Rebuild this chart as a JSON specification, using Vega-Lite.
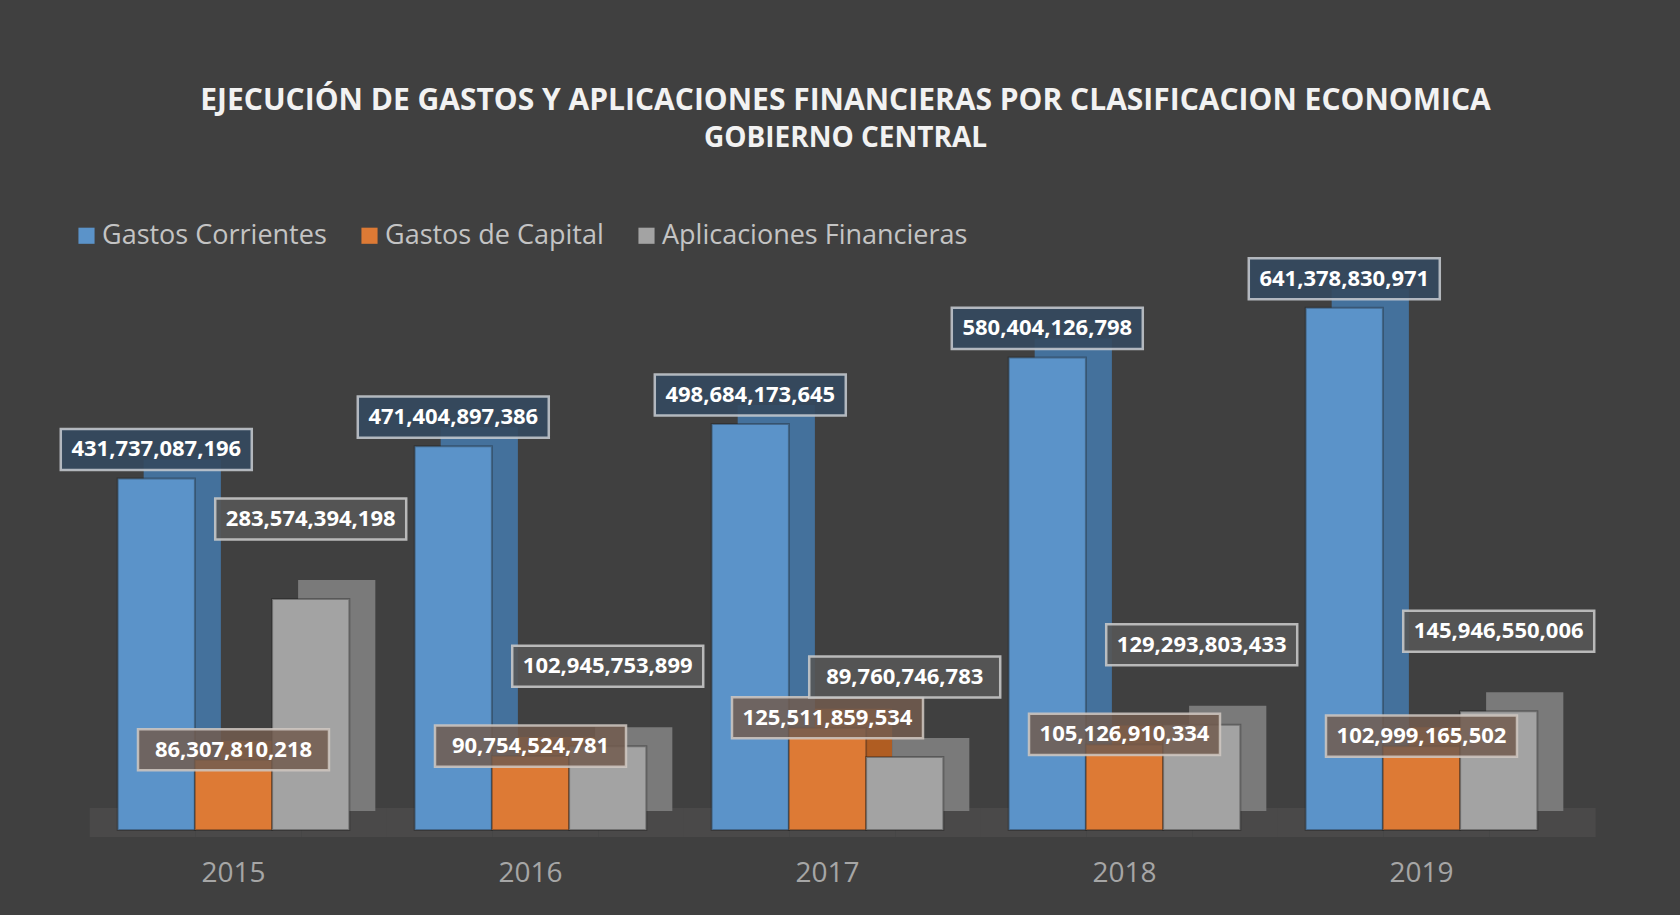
{
  "$schema": "https://vega.github.io/schema/vega-lite/v6.json",
  "autosize": {"type": "none"},
  "width": 1485,
  "height": 570,
  "padding": {"left": 85, "top": 260, "right": 110, "bottom": 85},
  "background": "#404040",
  "config": {
    "view": {"stroke": null},
    "font": "Open Sans"
  },
  "title": {
    "text": "EJECUCIÓN DE GASTOS Y APLICACIONES FINANCIERAS POR CLASIFICACION ECONOMICA",
    "subtitle": "GOBIERNO CENTRAL",
    "font": "Open Sans",
    "fontSize": 30,
    "fontWeight": "bold",
    "color": "#f2f2f2",
    "subtitleFont": "Open Sans",
    "subtitleFontSize": 28,
    "subtitleFontWeight": "bold",
    "subtitleColor": "#f2f2f2",
    "subtitlePadding": 9,
    "anchor": "middle",
    "dx": 18,
    "offset": 69
  },
  "resolve": {"scale": {"color": "independent", "xOffset": "independent"}},
  "data": {
    "values": [
      {"year": "2015", "serie": "Gastos Corrientes", "value": 431737087196},
      {"year": "2015", "serie": "Gastos de Capital", "value": 86307810218},
      {"year": "2015", "serie": "Aplicaciones Financieras", "value": 283574394198},
      {"year": "2016", "serie": "Gastos Corrientes", "value": 471404897386},
      {"year": "2016", "serie": "Gastos de Capital", "value": 90754524781},
      {"year": "2016", "serie": "Aplicaciones Financieras", "value": 102945753899},
      {"year": "2017", "serie": "Gastos Corrientes", "value": 498684173645},
      {"year": "2017", "serie": "Gastos de Capital", "value": 125511859534},
      {"year": "2017", "serie": "Aplicaciones Financieras", "value": 89760746783},
      {"year": "2018", "serie": "Gastos Corrientes", "value": 580404126798},
      {"year": "2018", "serie": "Gastos de Capital", "value": 105126910334},
      {"year": "2018", "serie": "Aplicaciones Financieras", "value": 129293803433},
      {"year": "2019", "serie": "Gastos Corrientes", "value": 641378830971},
      {"year": "2019", "serie": "Gastos de Capital", "value": 102999165502},
      {"year": "2019", "serie": "Aplicaciones Financieras", "value": 145946550006}
    ]
  },
  "encoding": {
    "x": {
      "field": "year",
      "type": "nominal",
      "title": null,
      "scale": {"paddingInner": 0.22, "paddingOuter": 0.11},
      "axis": {
        "labelAngle": 0,
        "labelFont": "Open Sans",
        "labelFontSize": 28,
        "labelColor": "#a6a6a6",
        "labelBaseline": "middle",
        "labelPadding": 43,
        "domain": false,
        "ticks": false,
        "grid": false
      }
    },
    "xOffset": {
      "field": "serie",
      "type": "nominal",
      "scale": {"domain": ["Gastos Corrientes", "Gastos de Capital", "Aplicaciones Financieras"], "paddingInner": 0}
    },
    "y": {
      "field": "value",
      "type": "quantitative",
      "scale": {"domain": [0, 700000000000]},
      "axis": null
    }
  },
  "layer": [
    {
      "mark": {"type": "bar", "color": "#4a4949"},
      "encoding": {
        "xOffset": {
          "field": "serie",
          "type": "nominal",
          "scale": {"domain": ["Gastos Corrientes", "Gastos de Capital", "Aplicaciones Financieras"], "range": [-28, 290], "paddingInner": 0}
        },
        "y": {"datum": 27000000000, "type": "quantitative"},
        "y2": {"datum": -8500000000}
      }
    },
    {
      "mark": {"type": "bar", "yOffset": -19, "y2Offset": -4},
      "encoding": {
        "xOffset": {
          "field": "serie",
          "type": "nominal",
          "scale": {"domain": ["Gastos Corrientes", "Gastos de Capital", "Aplicaciones Financieras"], "range": [26, 257.66], "paddingInner": 0}
        },
        "color": {
          "field": "serie",
          "type": "nominal",
          "scale": {"domain": ["Gastos Corrientes", "Gastos de Capital", "Aplicaciones Financieras"], "range": ["#44719c", "#b05d22", "#7a7a7a"]},
          "legend": null
        }
      }
    },
    {
      "mark": {"type": "bar", "strokeWidth": 2, "stroke": "#1a1a1a", "strokeOpacity": 0.35},
      "encoding": {
        "color": {
          "field": "serie",
          "type": "nominal",
          "scale": {"domain": ["Gastos Corrientes", "Gastos de Capital", "Aplicaciones Financieras"], "range": ["#5b93c9", "#dd7a35", "#a3a3a3"]},
          "legend": {
            "title": null,
            "orient": "none",
            "legendX": -12,
            "legendY": -38,
            "direction": "horizontal",
            "symbolType": "square",
            "symbolSize": 260,
            "symbolStrokeWidth": 0,
            "labelFont": "Open Sans",
            "labelFontSize": 27,
            "labelColor": "#c4c4c4",
            "labelLimit": 0,
            "labelOffset": 2,
            "columnPadding": 29
          }
        }
      }
    },
    {
      "transform": [{"filter": "datum.serie === 'Gastos Corrientes'"}],
      "layer": [
        {
          "mark": {"type": "point", "shape": "M-1,-0.215H1V0.215H-1Z", "size": 36481, "filled": true, "fill": "#34495f", "fillOpacity": 0.9, "stroke": "#c8cdd2", "strokeWidth": 2.5, "strokeOpacity": 0.85, "opacity": 1, "yOffset": -29}
        },
        {
          "mark": {"type": "text", "font": "Open Sans", "fontSize": 22, "fontWeight": "bold", "color": "#ffffff", "align": "center", "baseline": "middle", "yOffset": -29},
          "encoding": {"text": {"field": "value", "type": "quantitative", "format": ",.0f"}}
        }
      ]
    },
    {
      "transform": [{"filter": "datum.serie === 'Gastos de Capital'"}],
      "layer": [
        {
          "mark": {"type": "point", "shape": "M-1,-0.215H1V0.215H-1Z", "size": 36481, "filled": true, "fill": "#725c4f", "fillOpacity": 0.85, "stroke": "#d0c8c2", "strokeWidth": 2.5, "strokeOpacity": 0.85, "opacity": 1, "yOffset": -10}
        },
        {
          "mark": {"type": "text", "font": "Open Sans", "fontSize": 22, "fontWeight": "bold", "color": "#ffffff", "align": "center", "baseline": "middle", "yOffset": -10},
          "encoding": {"text": {"field": "value", "type": "quantitative", "format": ",.0f"}}
        }
      ]
    },
    {
      "transform": [{"filter": "datum.serie === 'Aplicaciones Financieras'"}],
      "layer": [
        {
          "mark": {"type": "point", "shape": "M-1,-0.215H1V0.215H-1Z", "size": 36481, "filled": true, "fill": "#565656", "fillOpacity": 0.9, "stroke": "#cccccc", "strokeWidth": 2.5, "strokeOpacity": 0.85, "opacity": 1, "yOffset": -80}
        },
        {
          "mark": {"type": "text", "font": "Open Sans", "fontSize": 22, "fontWeight": "bold", "color": "#ffffff", "align": "center", "baseline": "middle", "yOffset": -80},
          "encoding": {"text": {"field": "value", "type": "quantitative", "format": ",.0f"}}
        }
      ]
    }
  ]
}
